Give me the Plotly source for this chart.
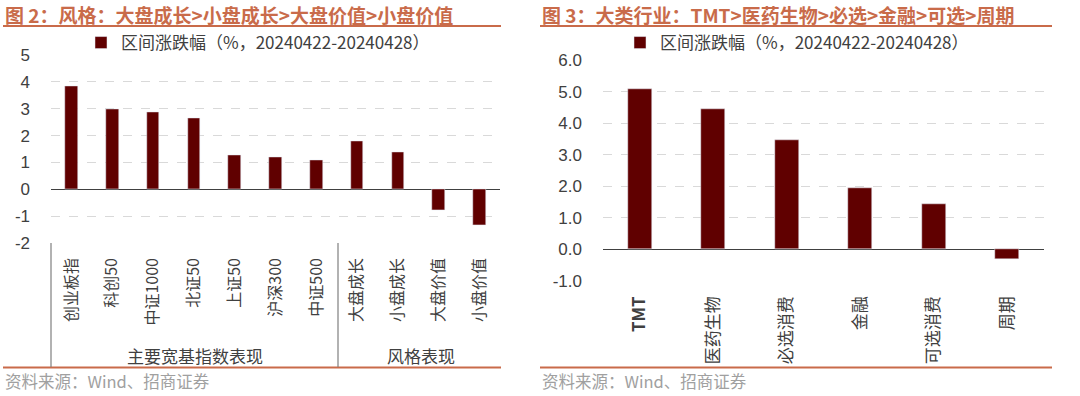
import plotly.graph_objects as go

# ---------------- data ----------------
left_categories = ["创业板指", "科创50", "中证1000", "北证50", "上证50", "沪深300", "中证500",
                   "大盘成长", "小盘成长", "大盘价值", "小盘价值"]
left_values = [3.84, 2.97, 2.86, 2.64, 1.28, 1.19, 1.07, 1.79, 1.37, -0.76, -1.32]
left_groups = ["主要宽基指数表现", "风格表现"]
left_yticks = [-2, -1, 0, 1, 2, 3, 4, 5]

right_categories = ["TMT", "医药生物", "必选消费", "金融", "可选消费", "周期"]
right_values = [5.09, 4.45, 3.48, 1.93, 1.44, -0.30]
right_yticks = [-1.0, 0.0, 1.0, 2.0, 3.0, 4.0, 5.0, 6.0]

series_name = "区间涨跌幅（%，20240422-20240428）"
left_title = "图 2：风格：大盘成长>小盘成长>大盘价值>小盘价值"
right_title = "图 3：大类行业：TMT>医药生物>必选>金融>可选>周期"
source_text = "资料来源：Wind、招商证券"

# ---------------- styling ----------------
W, H = 1080, 396
BAR = "#600000"
ACCENT = "#C96B4A"
TXT = "#404040"
FONT = "Liberation Sans, Noto Sans CJK SC, sans-serif"
CJK = "Noto Sans CJK SC, Liberation Sans, sans-serif"


def px_x(x):
    return x / W


def px_y(y):
    return 1 - y / H


fig = go.Figure()

fig.add_trace(go.Bar(
    x=left_categories, y=left_values, name=series_name,
    marker=dict(color=BAR), width=0.31,
    xaxis="x", yaxis="y", legend="legend", showlegend=True,
))
fig.add_trace(go.Bar(
    x=right_categories, y=right_values, name=series_name,
    marker=dict(color=BAR), width=0.33,
    xaxis="x2", yaxis="y2", legend="legend2", showlegend=True,
))

# left axes: 5 at y=55px, -2 at y=243px
l_top, l_bot = 55, 243
l_pad = 0.03 * (l_bot - l_top) / 7
fig.update_layout(
    xaxis=dict(
        domain=[px_x(51), px_x(500)], anchor="y", automargin=False,
        range=[-0.5, len(left_categories) - 0.5],
        tickangle=-90, showgrid=False, showline=False, ticks="",
        tickfont=dict(family=CJK, size=16, color=TXT),
        ticklabelstandoff=10,
    ),
    yaxis=dict(
        domain=[px_y(l_bot + l_pad), px_y(l_top - l_pad)], anchor="x", automargin=False,
        range=[-2.03, 5.03], tickvals=left_yticks,
        ticktext=[str(v) for v in left_yticks],
        showgrid=True, gridcolor="#D9D9D9", griddash="dash", gridwidth=1,
        zeroline=True, zerolinecolor="#404040", zerolinewidth=1,
        showline=False, ticks="",
        tickfont=dict(family=FONT, size=17, color=TXT),
        ticklabelstandoff=20,
    ),
)

# right axes: 6.0 at y=60px, -1.0 at y=281px
r_top, r_bot = 60, 281
r_pad = 0.03 * (r_bot - r_top) / 7
fig.update_layout(
    xaxis2=dict(
        domain=[px_x(603), px_x(1044)], anchor="y2", automargin=False,
        range=[-0.5, len(right_categories) - 0.5],
        tickangle=-90, showgrid=False, showline=False, ticks="",
        tickfont=dict(family=CJK, size=17, color=TXT),
        ticklabelstandoff=10,
        tickvals=right_categories,
        ticktext=["<b>" + c + "</b>" if c.isascii() else c for c in right_categories],
    ),
    yaxis2=dict(
        domain=[px_y(r_bot + r_pad), px_y(r_top - r_pad)], anchor="x2", automargin=False,
        range=[-1.03, 6.03], tickvals=right_yticks,
        ticktext=["%.1f" % v for v in right_yticks],
        showgrid=True, gridcolor="#D9D9D9", griddash="dash", gridwidth=1,
        zeroline=True, zerolinecolor="#404040", zerolinewidth=1,
        showline=False, ticks="",
        tickfont=dict(family=FONT, size=17, color=TXT),
        ticklabelstandoff=20,
    ),
)

legend_style = dict(
    orientation="h", xanchor="center", yanchor="middle",
    font=dict(family=CJK, size=17, color=TXT),
    bgcolor="rgba(0,0,0,0)", itemwidth=30,
)
fig.update_layout(
    legend=dict(x=px_x(258), y=px_y(43), **legend_style),
    legend2=dict(x=px_x(797), y=px_y(43), **legend_style),
)

shapes = []
annotations = []
# title underline and bottom line
for x0, x1 in [(3, 501), (540, 1052)]:
    shapes.append(dict(type="line", xref="paper", yref="paper",
                       x0=px_x(x0), x1=px_x(x1), y0=px_y(26), y1=px_y(26),
                       line=dict(color=ACCENT, width=2)))
    shapes.append(dict(type="line", xref="paper", yref="paper",
                       x0=px_x(x0), x1=px_x(x1), y0=px_y(367.5), y1=px_y(367.5),
                       line=dict(color=ACCENT, width=2)))
# group separators on left chart
for xs in [51, 338]:
    shapes.append(dict(type="line", xref="paper", yref="paper",
                       x0=px_x(xs), x1=px_x(xs), y0=px_y(243), y1=px_y(367),
                       line=dict(color="#7F7F7F", width=1.2)))

for x0, t in [(3, left_title), (540, right_title)]:
    annotations.append(dict(text="<b>" + t + "</b>", xref="paper", yref="paper",
                            x=px_x(x0), y=px_y(14), xanchor="left", yanchor="middle",
                            showarrow=False,
                            font=dict(family=CJK, size=19, color=ACCENT)))
    annotations.append(dict(text=source_text, xref="paper", yref="paper",
                            x=px_x(x0), y=px_y(381), xanchor="left", yanchor="middle",
                            showarrow=False,
                            font=dict(family=CJK, size=16.5, color="#A0A0A0")))

for cx, g in zip([195, 421], left_groups):
    annotations.append(dict(text=g, xref="paper", yref="paper",
                            x=px_x(cx), y=px_y(355), xanchor="center", yanchor="middle",
                            showarrow=False,
                            font=dict(family=CJK, size=17, color=TXT)))

fig.update_layout(
    width=W, height=H, margin=dict(l=0, r=0, t=0, b=0),
    paper_bgcolor="white", plot_bgcolor="white",
    shapes=shapes, annotations=annotations, bargap=0,
    hovermode=False,
)

fig.write_html(
    "out.html",
    config={"displayModeBar": False},
    post_script="document.body.style.margin='0';document.body.style.overflow='hidden';",
)
